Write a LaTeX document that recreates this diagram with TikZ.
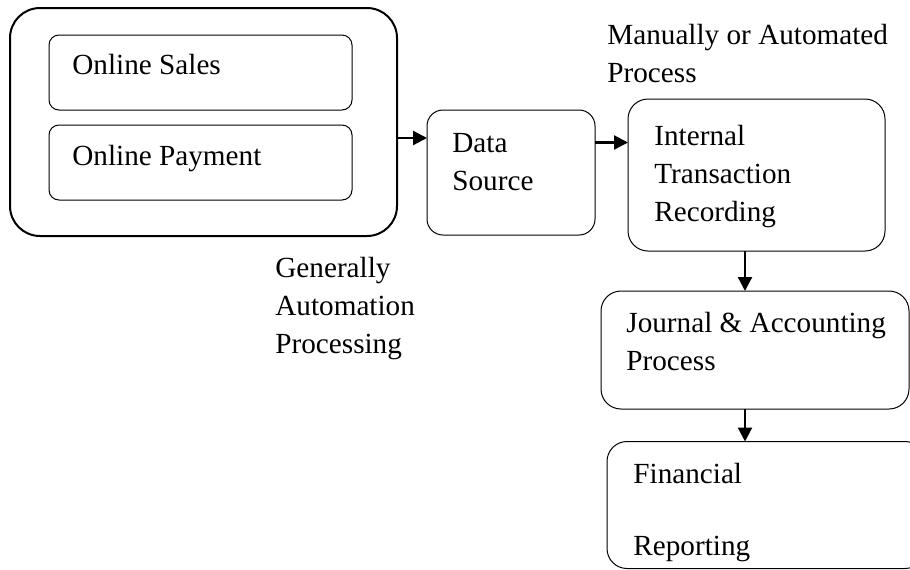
\documentclass[tikz,border=0pt]{standalone}
\usepackage{fontspec}
\setmainfont{Liberation Serif}
\usetikzlibrary{arrows.meta}

\begin{document}
\begin{tikzpicture}[x=0.5pt, y=-0.5pt,
    box/.style={draw, rounded corners=#1, inner sep=0pt, outer sep=0pt, line width=0.5pt},
    box/.default=10pt,
    txt/.style={anchor=base west, inner sep=0pt, align=left,
      font=\fontsize{14.6}{19}\selectfont},
    flow/.style={-{Triangle[length=7pt, width=7pt]}, line width=1.1pt}]
    \clip (0,0) rectangle (910,569);

    % 外側の枠と中の枠
    \node[box=15pt, line width=1pt, minimum width=193.5pt, minimum height=114pt] (online) at (203.5, 122) {};
    \node[box=5pt, minimum width=151.5pt, minimum height=37.5pt] (sales) at (200.5, 72.5) {};
    \node[box=5pt, minimum width=151.5pt, minimum height=37.5pt] (payment) at (200.5, 162.5) {};

    % 右側の枠
    \node[box=8pt, minimum width=84pt, minimum height=62.5pt] (source) at (511, 172.5) {};
    \node[box, minimum width=128.5pt, minimum height=76pt] (internal) at (756.5, 175) {};
    \node[box, minimum width=154pt, minimum height=59pt] (journal) at (755, 350) {};
    \node[box, minimum width=159pt, minimum height=63.5pt] (report) at (766, 505) {};

    % テキスト (最後の行のベースライン)
    \node[txt] (salestxt) at (72, 74) {Online Sales};
    \node[txt] (paymenttxt) at (72, 165) {Online Payment};
    \node[txt] (sourcetxt) at (452, 190) {Data\\Source};
    \node[txt] (internaltxt) at (654, 221) {Internal\\Transaction\\Recording};
    \node[txt] (journaltxt) at (626, 370) {Journal \& Accounting\\Process};
    \node[txt] (reporttxt) at (633, 555) {Financial\\[17pt]Reporting};
    \node[txt] (manual) at (607, 82) {Manually or Automated\\Process};
    \node[txt] (auto) at (275, 353) {Generally\\Automation\\Processing};

    % 矢印
    \draw[flow] ([yshift=-8pt]online.east) -- ([yshift=-8pt]online.east -| source.west);
    \draw[flow] ([yshift=15pt]source.east) -- ([yshift=15pt]source.east -| internal.west);
    \draw[flow] ([xshift=-5.75pt]internal.south) -- ([xshift=-5.75pt]internal.south |- journal.north);
    \draw[flow] ([xshift=-5pt]journal.south) -- ([xshift=-5pt]journal.south |- report.north);
\end{tikzpicture}
\end{document}
